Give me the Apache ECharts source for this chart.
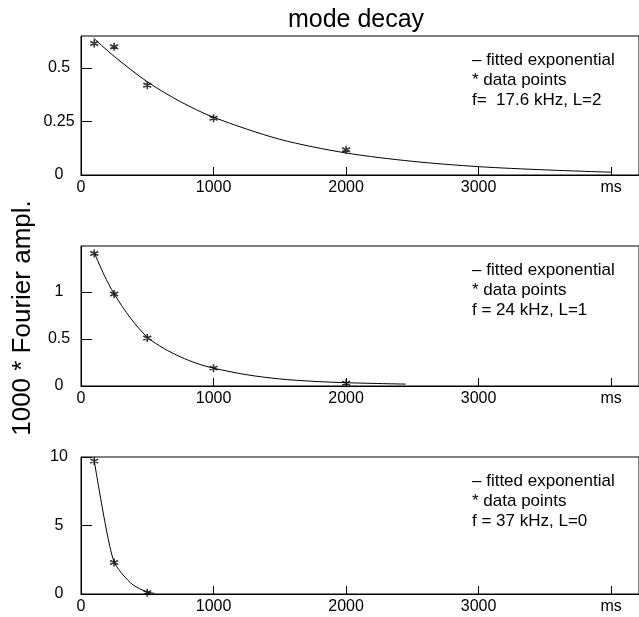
<!DOCTYPE html>
<html>
<head>
<meta charset="utf-8">
<script src="https://cdn.jsdelivr.net/npm/echarts@6/dist/echarts.min.js"></script>
<style>
html,body{margin:0;padding:0;background:#fff;}
#chart{width:639px;height:617px;}
</style>
</head>
<body>
<div id="chart"></div>
<script>
// ---- data ----
var title = "mode decay";
var yName = "1000 * Fourier ampl.";
var xTickLabels = {0: "0", 1000: "1000", 2000: "2000", 3000: "3000", 4000: "ms"};

// panel 1: f = 17.6 kHz, L=2
var p1Points = [[100, 0.615], [250, 0.60], [500, 0.42], [1000, 0.265], [2000, 0.118]];
var p1Fit = [[95, 0.64], [250, 0.555], [500, 0.436], [750, 0.343], [1000, 0.270], [1500, 0.167],
             [2000, 0.103], [2500, 0.064], [3000, 0.039], [3500, 0.024], [4000, 0.013]];
var p1Legend = ["– fitted exponential", "* data points", "f=  17.6 kHz, L=2"];

// panel 2: f = 24 kHz, L=1
var p2Points = [[100, 1.41], [250, 0.98], [500, 0.51], [1000, 0.19], [2000, 0.03]];
var p2Fit = [[100, 1.42], [175, 1.18], [250, 0.98], [375, 0.72], [500, 0.52], [625, 0.40],
             [750, 0.31], [875, 0.24], [1000, 0.19], [1250, 0.12], [1500, 0.075],
             [1750, 0.05], [2000, 0.035], [2450, 0.02]];
var p2Legend = ["– fitted exponential", "* data points", "f = 24 kHz, L=1"];

// panel 3: f = 37 kHz, L=0
var p3Points = [[100, 9.7], [250, 2.3], [500, 0.1]];
var p3Fit = [[100, 9.7], [168, 5.9], [218, 3.45], [255, 2.24], [318, 1.39], [393, 0.66],
             [493, 0.17], [555, 0.05]];
var p3Legend = ["– fitted exponential", "* data points", "f = 37 kHz, L=0"];

var yMax = [0.65, 1.49, 10];
var yInterval = [0.25, 0.5, 5];

// ---- layout ----
var FONT = "Liberation Sans, Arial, sans-serif";
var grids = [
  {left: 81, top: 36, width: 560, height: 139},
  {left: 81, top: 246, width: 560, height: 140},
  {left: 81, top: 457, width: 560, height: 137}
];
var asterisk = 'path://M0,-1L0,1M-0.87,-0.5L0.87,0.5M-0.87,0.5L0.87,-0.5M-0.3,0L0.3,0';

var chart = echarts.init(document.getElementById('chart'), null, {renderer: 'canvas'});

var option = {
  backgroundColor: '#fff',
  animation: false,
  title: {
    text: title, left: 351, top: 3, textAlign: 'center',
    textStyle: {fontFamily: FONT, fontSize: 25, fontWeight: 'normal', color: '#000'}
  },
  grid: grids.map(function (g) {
    return Object.assign({show: true, borderColor: '#000', borderWidth: 1, backgroundColor: 'transparent'}, g);
  }),
  xAxis: grids.map(function (g, i) {
    return {
      type: 'value', gridIndex: i, min: 0, max: 4210, interval: 1000,
      splitLine: {show: false},
      axisLine: {show: true, onZero: false, lineStyle: {color: '#000', width: 1}},
      axisTick: {show: true, inside: true, length: 8, lineStyle: {color: '#000'}},
      axisLabel: {
        showMaxLabel: false, margin: 5, color: '#000', fontFamily: FONT, fontSize: 16,
        formatter: function (v) { return xTickLabels[v] !== undefined ? xTickLabels[v] : ''; }
      }
    };
  }),
  yAxis: grids.map(function (g, i) {
    return {
      type: 'value', gridIndex: i, min: 0, max: yMax[i], interval: yInterval[i],
      splitLine: {show: false},
      axisLine: {show: true, lineStyle: {color: '#000', width: 1}},
      axisTick: {show: true, inside: true, length: 11, lineStyle: {color: '#000'}},
      axisLabel: {
        showMaxLabel: i === 2, margin: 22, align: 'center', color: '#000', fontFamily: FONT, fontSize: 16,
        formatter: function (v) { return String(v); }
      }
    };
  }),
  series: [],
  graphic: []
};

var fits = [p1Fit, p2Fit, p3Fit];
var pts = [p1Points, p2Points, p3Points];
var legends = [p1Legend, p2Legend, p3Legend];
for (var i = 0; i < 3; i++) {
  option.series.push({
    type: 'line', xAxisIndex: i, yAxisIndex: i, data: fits[i], smooth: 0.3,
    showSymbol: false, lineStyle: {color: '#000', width: 1}, z: 2
  });
  option.series.push({
    type: 'scatter', xAxisIndex: i, yAxisIndex: i, data: pts[i],
    symbol: asterisk, symbolSize: 8,
    itemStyle: {color: 'transparent', borderColor: '#000', borderWidth: 1.6}, z: 3
  });
  option.graphic.push({
    type: 'text', left: 472, top: grids[i].top + 14,
    style: {
      text: legends[i].join('\n'), fill: '#000', font: '17px ' + FONT, lineHeight: 20
    }
  });
}
option.graphic.push({
  type: 'text', x: 23, y: 318, rotation: Math.PI / 2,
  style: {text: yName, fill: '#000', font: '26px ' + FONT, align: 'center', verticalAlign: 'middle'}
});

chart.setOption(option);
</script>
</body>
</html>
